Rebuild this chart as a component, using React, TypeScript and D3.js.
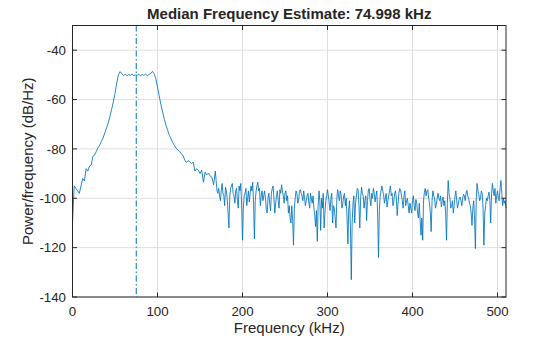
import React from "react";
import * as d3 from "d3";

// Smooth passband part: bins every 2 kHz from 0 to 170 kHz
const BAND_STEP = 2;
const bandValues: number[] = [
  -110, -95, -96, -97, -98, -95, -92, -93, -88, -89,
  -87, -86.5, -83, -82.5, -81, -79.5, -78.5, -77, -75.5, -73.5,
  -71.5, -69.5, -67, -64, -61, -57.5, -53.5, -50, -48.7, -49.5,
  -50.3, -49.8, -50.3, -49.9, -50.2, -49.7, -50.3, -50, -50.2, -49.8,
  -50.3, -49.9, -50.2, -49.7, -50.3, -49.8, -49.5, -48.6, -49.5, -51.5,
  -55, -58.5, -62, -65, -68, -70.5, -72.5, -74.5, -76, -77.5,
  -78.7, -79.7, -80.5, -81, -82, -82.6, -84.5, -85.5, -84.7, -85.2,
  -86, -85.3, -89, -88, -88.6, -90, -88.6, -93.5, -89.4, -90.5,
  -89.8, -91, -91.5, -94.5, -89, -97,
];
// Noise floor part: bins every 1 kHz from 171 to 510 kHz
const NOISE_START = 171;
const NOISE_STEP = 1;
const noiseValues: number[] = [
  -98, -96, -99, -101, -97, -94, -98, -99, -103, -95.5, -97, -100, -106, -112, -99, -96, -95, -94, -98, -99,
  -102, -97, -96, -101, -104, -95, -97, -94, -103, -117, -104, -99, -98, -96, -103, -100, -97, -101.5, -98, -95,
  -97, -93.5, -102, -116.5, -101, -97, -95, -93.5, -97, -96, -103, -99, -97, -101, -99, -97, -100, -104.5, -106, -100,
  -98, -102, -105, -98, -96, -95, -100, -106, -102, -99, -97, -101, -104, -96.5, -98, -94.5, -97, -99, -102, -98,
  -97, -101, -99, -106, -103, -108, -110, -103, -109, -119, -104, -100, -97, -98, -102, -101, -97, -96.5, -98, -99,
  -101, -97, -100, -103, -101, -99, -98, -101.5, -104, -98, -100, -102, -99, -104, -107, -111.5, -105, -117.5, -103, -97,
  -101, -113, -100, -104, -98, -112, -106, -101, -99, -96.5, -99, -102, -105, -100, -98, -110, -103, -104, -108, -112,
  -100, -96.5, -99, -101, -97, -98.5, -104, -102, -99, -98, -103, -100, -108, -118.5, -104, -101, -112, -133, -110, -102,
  -99, -110, -102, -99, -96, -96.5, -103, -112, -100, -95.5, -98, -99, -104, -101, -99, -109, -101, -97, -96, -100.5,
  -103, -98, -100, -96, -98, -101.5, -99, -97, -106, -124, -105, -99, -97, -95, -97, -98.5, -102, -100, -98, -103.5,
  -101, -99, -97, -95, -99, -98, -103, -101.5, -98, -97, -100, -107, -102, -98, -96, -96.5, -99, -101, -104, -99,
  -97, -103, -101, -100, -103, -106, -102, -104, -106, -101, -99, -103, -105, -100.5, -102, -106, -108, -102, -109, -115,
  -108, -117, -101, -97.5, -96, -99, -97, -96.5, -100, -102, -106, -113.5, -101, -97, -99, -100, -104, -102.5, -100, -98,
  -100, -101, -99, -103.5, -101, -99.5, -103, -101, -106, -117, -102, -92.8, -98, -100, -104, -103, -101, -106, -103, -99,
  -97, -101, -104, -102, -100, -99.5, -101, -103, -100, -98.4, -99, -101, -98, -96.8, -99, -100, -102, -103, -106, -111,
  -104, -101, -108, -120.4, -100, -94, -97, -98.5, -101, -100, -97, -98, -104, -119, -106, -103, -100, -101, -99, -97.5,
  -101, -110, -98, -94, -97, -99, -96, -102, -99, -97, -100, -101, -96, -92.8, -98, -103, -100, -102, -101, -104,
];
const medianFreq = 74.998;
const xTicks = [0, 100, 200, 300, 400, 500];
const yTicks = [-140, -120, -100, -80, -60, -40];
const xDomain = [0, 510];
const yDomain = [-140, -30];
const titleText = "Median Frequency Estimate: 74.998 kHz";
const xLabel = "Frequency (kHz)";
const yLabel = "Power/frequency (dB/Hz)";

const W = 560, H = 337;
const M = { left: 72.5, right: 506, top: 25.5, bottom: 297 };
const FONT = "'Liberation Sans', Arial, Helvetica, sans-serif";
const AXC = "#262626";
const LINEC = "#0072BD";

export default function App() {
  const x = d3.scaleLinear().domain(xDomain).range([M.left, M.right]);
  const y = d3.scaleLinear().domain(yDomain).range([M.bottom, M.top]);
  const pts: [number, number][] = [
    ...bandValues.map((v, i) => [i * BAND_STEP, v] as [number, number]),
    ...noiseValues.map((v, i) => [NOISE_START + i * NOISE_STEP, v] as [number, number]),
  ];
  const line = d3.line<[number, number]>().x(d => x(d[0])).y(d => y(d[1]));
  const tl = 4.5;
  return (
    <svg width={W} height={H} style={{ position: "absolute", left: 0, top: 0, background: "#fff" }}>
      <rect x={0} y={0} width={W} height={H} fill="#fff" />
      {xTicks.map(t => (
        <line key={"gx" + t} x1={x(t)} x2={x(t)} y1={M.top} y2={M.bottom} stroke="#dfdfdf" strokeWidth={1} />
      ))}
      {yTicks.map(t => (
        <line key={"gy" + t} x1={M.left} x2={M.right} y1={y(t)} y2={y(t)} stroke="#dfdfdf" strokeWidth={1} />
      ))}
      <path d={line(pts) || ""} fill="none" stroke={LINEC} strokeWidth={0.85} strokeLinejoin="round" />
      <line x1={x(medianFreq)} x2={x(medianFreq)} y1={M.top} y2={M.bottom} stroke={LINEC} strokeWidth={1} strokeDasharray="6,2.5,1.5,2.5" />
      <rect x={M.left} y={M.top} width={M.right - M.left} height={M.bottom - M.top} fill="none" stroke={AXC} strokeWidth={1} />
      {xTicks.map(t => (
        <g key={"tx" + t}>
          <line x1={x(t)} x2={x(t)} y1={M.bottom} y2={M.bottom - tl} stroke={AXC} />
          <line x1={x(t)} x2={x(t)} y1={M.top} y2={M.top + tl} stroke={AXC} />
          <text x={x(t)} y={316} textAnchor="middle" fontFamily={FONT} fontSize={13.3} fill={AXC}>{t}</text>
        </g>
      ))}
      {yTicks.map(t => (
        <g key={"ty" + t}>
          <line x1={M.left} x2={M.left + tl} y1={y(t)} y2={y(t)} stroke={AXC} />
          <line x1={M.right} x2={M.right - tl} y1={y(t)} y2={y(t)} stroke={AXC} />
          <text x={66} y={y(t)} dy="0.36em" textAnchor="end" fontFamily={FONT} fontSize={13.3} fill={AXC}>{t}</text>
        </g>
      ))}
      <text x={(M.left + M.right) / 2} y={19} textAnchor="middle" fontFamily={FONT} fontSize={15} fontWeight="bold" fill={AXC}>{titleText}</text>
      <text x={(M.left + M.right) / 2} y={333} textAnchor="middle" fontFamily={FONT} fontSize={15} fill={AXC}>{xLabel}</text>
      <text transform={`translate(33,${(M.top + M.bottom) / 2}) rotate(-90)`} textAnchor="middle" fontFamily={FONT} fontSize={15} fill={AXC}>{yLabel}</text>
    </svg>
  );
}
